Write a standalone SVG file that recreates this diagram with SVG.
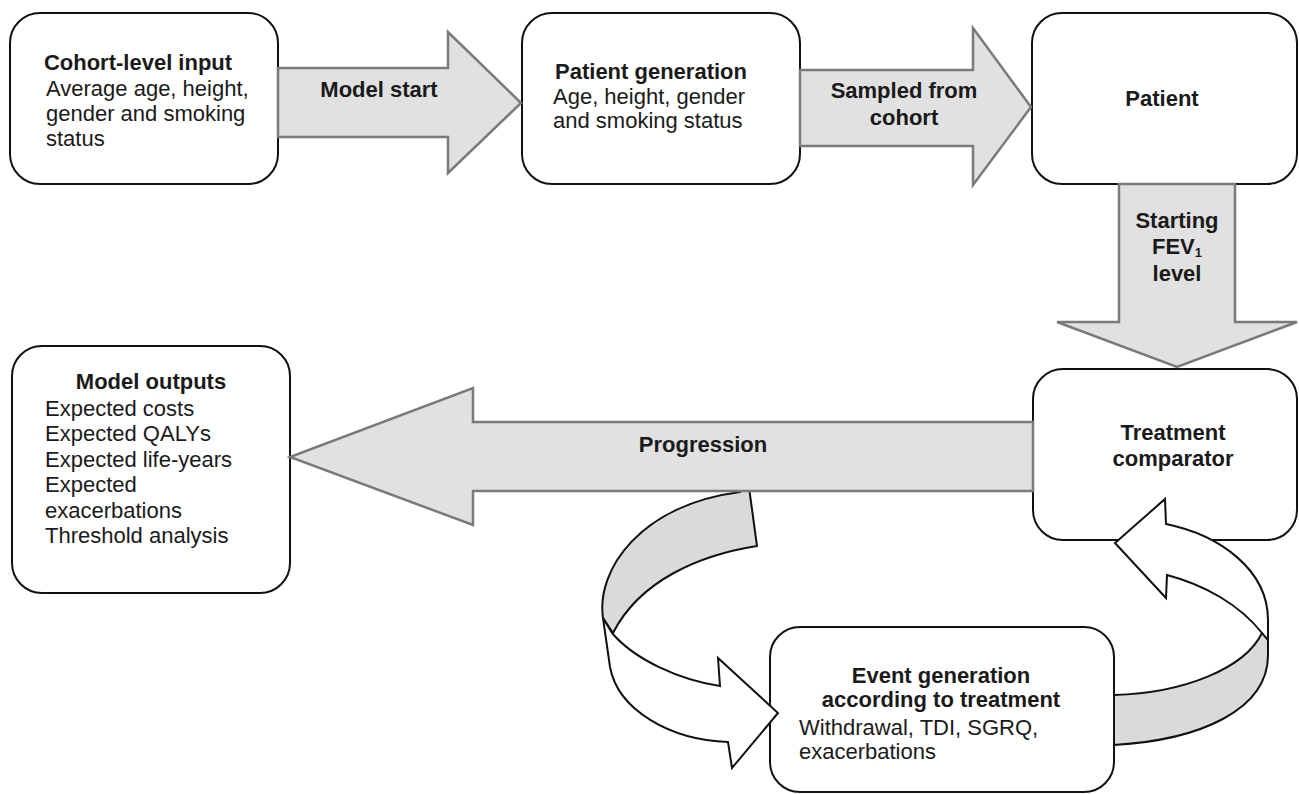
<svg xmlns="http://www.w3.org/2000/svg" width="1299" height="794" viewBox="0 0 1299 794">
<style>
.box{fill:#fff;stroke:#111;stroke-width:2}
.blk{fill:#e1e1e1;stroke:#7a7a7a;stroke-width:2.5;stroke-linejoin:miter}
.crv{stroke:#111;stroke-width:2;stroke-linejoin:miter}
.g{fill:#d9dadb}
.w{fill:#fff}
text{font-family:"Liberation Sans",Arial,Helvetica,sans-serif;font-size:22px;fill:#1a1a1a}
.b{font-weight:bold}
.c{text-anchor:middle}
</style>
<rect width="1299" height="794" fill="#fff"/>
<g id="cohort-input">
<rect class="box" x="10" y="13" width="268" height="171" rx="30"/>
<text class="b c" x="138" y="70">Cohort-level input</text>
<text x="46" y="96">Average age, height,</text>
<text x="46" y="121">gender and smoking</text>
<text x="46" y="146">status</text>
</g>
<g id="patient-generation">
<rect class="box" x="522" y="13" width="278" height="171" rx="30"/>
<text class="b c" x="651" y="79">Patient generation</text>
<text x="553" y="104">Age, height, gender</text>
<text x="553" y="128">and smoking status</text>
</g>
<g id="patient">
<rect class="box" x="1032" y="13" width="265" height="171" rx="30"/>
<text class="b c" x="1162" y="106">Patient</text>
</g>
<g id="treatment-comparator">
<rect class="box" x="1033" y="369" width="264" height="171" rx="30"/>
<text class="b c" x="1173" y="440">Treatment</text>
<text class="b c" x="1173" y="466">comparator</text>
</g>
<g id="model-outputs">
<rect class="box" x="12" y="346" width="278" height="247" rx="30"/>
<text class="b c" x="151" y="389">Model outputs</text>
<text x="45" y="416">Expected costs</text>
<text x="45" y="441">Expected QALYs</text>
<text x="45" y="467">Expected life-years</text>
<text x="45" y="492">Expected</text>
<text x="45" y="518">exacerbations</text>
<text x="45" y="543">Threshold analysis</text>
</g>
<g id="event-generation">
<rect class="box" x="770" y="627" width="344" height="165" rx="30"/>
<text class="b c" x="941" y="683">Event generation</text>
<text class="b c" x="941" y="707">according to treatment</text>
<text x="799" y="735">Withdrawal, TDI, SGRQ,</text>
<text x="799" y="759">exacerbations</text>
</g>
<g id="connectors">
<g id="loop-down">
<path class="crv g" d="M748,480 L757,546 C700,555 640,580 613,633 L603,618 C596,570 640,505 740,492 L739,480 Z"/>
<path class="crv w" d="M603,618 L610,667 C618,710 670,740 728,742 L732,768 L778,713 L718,658 L720,686 C680,680 635,660 612,633 Z"/>
</g>
<g id="loop-up">
<path class="crv w" d="M1166,524 C1220,535 1268,570 1268,620 L1268,645 L1262,633 C1240,605 1205,585 1167,575 L1166,598 L1115,543 L1165,499 Z"/>
<path class="crv g" d="M1114,695 C1185,693 1245,668 1262,633 L1268,640 L1268,655 C1268,710 1200,740 1114,745 Z"/>
</g>
<g id="model-start">
<polygon class="blk" points="278,68 448,68 448,32 521,103 448,173 448,137 278,137"/>
<text class="b c" x="379" y="97">Model start</text>
</g>
<g id="sampled">
<polygon class="blk" points="800,70 973,70 973,28 1031,107 973,185 973,146 800,146"/>
<text class="b c" x="904" y="98">Sampled from</text>
<text class="b c" x="904" y="125">cohort</text>
</g>
<g id="starting-fev">
<polygon class="blk" points="1119,184 1235,184 1235,322 1297,322 1177,367 1057,322 1119,322"/>
<text class="b c" x="1177" y="228">Starting</text>
<text class="b c" x="1177" y="254">FEV<tspan font-size="13" dy="3">1</tspan></text>
<text class="b c" x="1177" y="281">level</text>
</g>
<g id="progression">
<polygon class="blk" points="1033,422 473,422 473,388 290,457 473,525 473,491 1033,491"/>
<text class="b c" x="703" y="452">Progression</text>
</g>
</g>
</svg>
